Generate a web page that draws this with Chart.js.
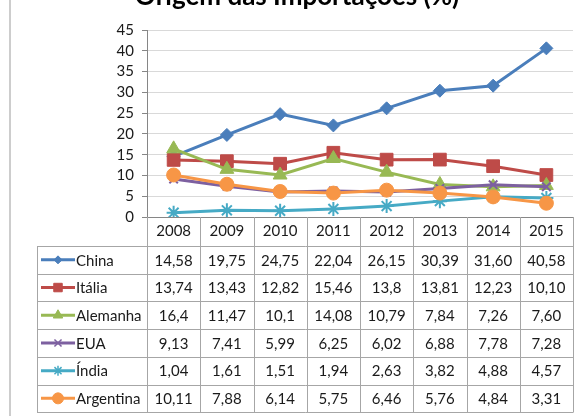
<!DOCTYPE html>
<html><head><meta charset="utf-8">
<script src="https://cdn.jsdelivr.net/npm/chart.js@4.4.0/dist/chart.umd.min.js"></script>
<style>html,body{margin:0;padding:0;background:#fff;overflow:hidden}
#wrap{position:absolute;left:0;top:0;width:584px;height:416px}</style>
</head><body><div id="wrap"><canvas id="c" width="584" height="416"></canvas></div>
<script>
const titleText = "Origem das Importações (%)";
const years = ["2008","2009","2010","2011","2012","2013","2014","2015"];
const seriesNames = ["China","Itália","Alemanha","EUA","Índia","Argentina"];
const china     = ["14,58","19,75","24,75","22,04","26,15","30,39","31,60","40,58"];
const italia    = ["13,74","13,43","12,82","15,46","13,8","13,81","12,23","10,10"];
const alemanha  = ["16,4","11,47","10,1","14,08","10,79","7,84","7,26","7,60"];
const eua       = ["9,13","7,41","5,99","6,25","6,02","6,88","7,78","7,28"];
const india     = ["1,04","1,61","1,51","1,94","2,63","3,82","4,88","4,57"];
const argentina = ["10,11","7,88","6,14","5,75","6,46","5,76","4,84","3,31"];
const yMin = 0, yMax = 45, yStep = 5;

const seriesLabels = [china, italia, alemanha, eua, india, argentina];
const colors = ["#4A7EBB","#BE4B48","#98B954","#7D60A0","#46AAC5","#F79646"];
const pStyles = ["rectRot","rect","triangle","crossRot","star","circle"];
const pRadius = [6.5, 9, 8, 6, 7, 7];
const kRadius = [4, 6, 5.5, 5, 5, 5.5];
const toNum = s => parseFloat(s.replace(",", "."));
const FONT = "Lato, 'Open Sans', sans-serif";
const TXT = "#1a1a1a";

const datasets = seriesNames.map((name, i) => ({
  label: name,
  data: seriesLabels[i].map(toNum),
  borderColor: colors[i],
  backgroundColor: colors[i],
  pointBackgroundColor: colors[i],
  pointBorderColor: colors[i],
  pointStyle: pStyles[i],
  pointRadius: pRadius[i],
  pointBorderWidth: (pStyles[i] === "crossRot" || pStyles[i] === "star") ? 2 : 1,
  borderWidth: 3,
  tension: 0,
  order: seriesNames.length - i
}));

function drawKey(ctx, i, cx, cy) {
  ctx.save();
  ctx.strokeStyle = colors[i]; ctx.lineWidth = 3;
  ctx.beginPath(); ctx.moveTo(41, cy); ctx.lineTo(75, cy); ctx.stroke();
  ctx.fillStyle = colors[i]; ctx.strokeStyle = colors[i];
  ctx.lineWidth = (pStyles[i] === "crossRot" || pStyles[i] === "star") ? 1.5 : 1;
  Chart.helpers.drawPoint(ctx, {pointStyle: pStyles[i], radius: kRadius[i], rotation: 0, borderWidth: ctx.lineWidth}, cx, cy);
  ctx.restore();
}

const tablePlugin = {
  id: "dataTable",
  afterDraw(chart) {
    const ctx = chart.ctx, xs = chart.scales.x, area = chart.chartArea;
    const n = years.length;
    const colW = (area.right - area.left) / n;
    const headerBottom = 246, rowH = 27.7, tableLeft = 37;
    const bottom = headerBottom + rowH * seriesNames.length;
    ctx.save();
    // frame line
    ctx.strokeStyle = "#BDBDBD"; ctx.lineWidth = 1.5;
    ctx.beginPath(); ctx.moveTo(10, 0); ctx.lineTo(10, 416); ctx.stroke();
    // title
    ctx.fillStyle = "#000"; ctx.font = "bold 26px " + FONT;
    ctx.textAlign = "center"; ctx.textBaseline = "alphabetic";
    ctx.fillText(titleText, 297, 5);
    // table lines
    ctx.strokeStyle = "#A6A6A6"; ctx.lineWidth = 1;
    ctx.beginPath();
    for (let k = 0; k <= n; k++) {
      const xk = Math.round(xs.getPixelForValue(k) - colW / 2) + 0.5;
      ctx.moveTo(xk, area.bottom); ctx.lineTo(xk, bottom);
    }
    ctx.moveTo(tableLeft + 0.5, headerBottom); ctx.lineTo(tableLeft + 0.5, bottom);
    for (let r = 0; r <= seriesNames.length; r++) {
      const y = Math.round(headerBottom + r * rowH) + 0.5;
      ctx.moveTo(tableLeft, y); ctx.lineTo(area.right + 0.5, y);
    }
    ctx.stroke();
    // values
    ctx.font = "15px " + FONT; ctx.fillStyle = TXT; ctx.textBaseline = "middle";
    for (let r = 0; r < seriesNames.length; r++) {
      const cy = headerBottom + (r + 0.5) * rowH;
      ctx.textAlign = "center";
      for (let c = 0; c < n; c++) ctx.fillText(seriesLabels[r][c], xs.getPixelForValue(c), cy + 1);
      ctx.textAlign = "left";
      ctx.fillText(seriesNames[r], 76, cy + 1);
      drawKey(ctx, r, 58, cy);
    }
    ctx.restore();
  }
};

new Chart(document.getElementById("c"), {
  type: "line",
  data: { labels: years, datasets },
  plugins: [tablePlugin],
  options: {
    responsive: false, animation: false, devicePixelRatio: 1,
    layout: { padding: { left: 0, right: 11, top: 30, bottom: 0 } },
    plugins: { legend: { display: false }, tooltip: { enabled: false }, title: { display: false } },
    scales: {
      x: {
        offset: true,
        grid: { display: false, drawTicks: false },
        border: { display: true, color: "#868686", width: 1 },
        ticks: { font: { family: FONT, size: 15 }, color: TXT, padding: 5, maxRotation: 0 },
        afterFit: s => { s.height = 199; }
      },
      y: {
        min: yMin, max: yMax,
        ticks: { stepSize: yStep, autoSkip: false, font: { family: FONT, size: 15 }, color: TXT, padding: 8 },
        grid: { color: "#D9D9D9", tickLength: 5, tickColor: "#868686" },
        border: { display: true, color: "#868686", width: 1 },
        afterFit: s => { s.width = 147; }
      }
    }
  }
});
</script></body></html>
